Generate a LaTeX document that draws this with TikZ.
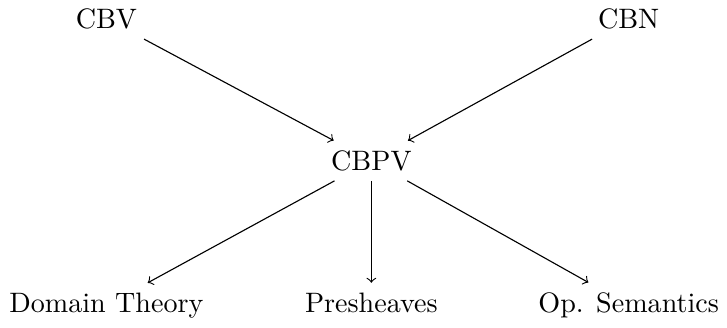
\documentclass[tikz,border=0pt]{standalone}
\begin{document}
\begin{tikzpicture}[x=1pt,y=1pt,
  lbl/.style={inner sep=3.33pt,anchor=base},
  arr/.style={->,>=to,line width=0.4pt}]
\useasboundingbox (0,0) rectangle (258.7,-116.4);
\node[lbl] (cbv) at (37.86,-10.16) {CBV};
\node[lbl] (cbn) at (223.7,-10.16) {CBN};
\node[lbl] (cbpv) at (132.15,-60.6) {CBPV};
\node[lbl] (dt) at (37.86,-111.1) {Domain Theory};
\node[lbl] (ps) at (132.15,-111.1) {Presheaves};
\node[lbl] (os) at (223.7,-111.1) {Op. Semantics};
\draw[arr] (cbv) -- (cbpv);
\draw[arr] (cbn) -- (cbpv);
\draw[arr] (cbpv) -- (dt);
\draw[arr] (cbpv) -- (ps);
\draw[arr] (cbpv) -- (os);
\end{tikzpicture}
\end{document}
